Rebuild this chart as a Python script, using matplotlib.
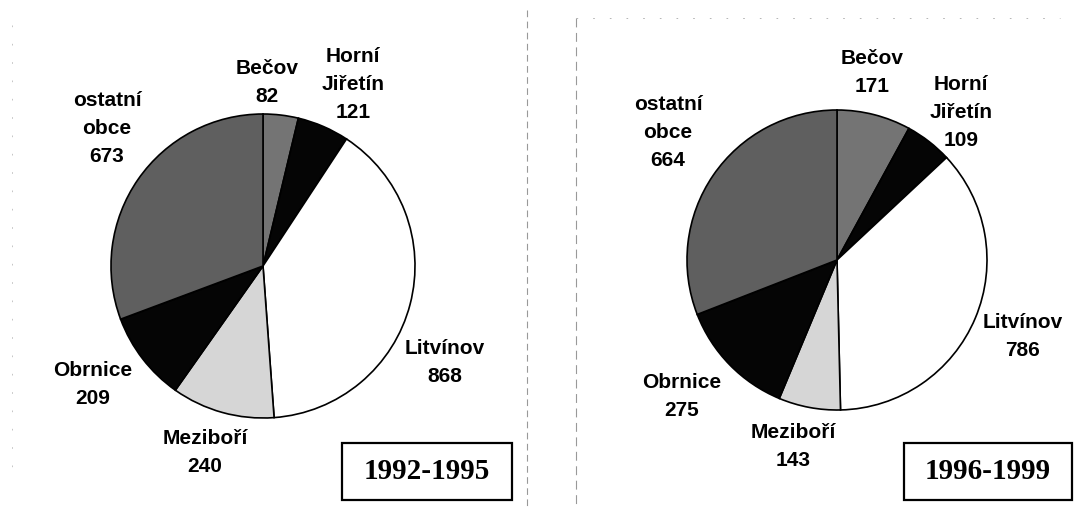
"""Two pie charts: origin of residents by municipality, 1992-1995 vs 1996-1999."""

import matplotlib

matplotlib.use("Agg")

import matplotlib.pyplot as plt
from matplotlib.patches import Rectangle

W, H = 1076, 515

# data, clockwise from 12 o'clock
names = ["Bečov", "Horní\nJiřetín", "Litvínov", "Meziboří", "Obrnice", "ostatní\nobce"]
values_1992 = [82, 121, 868, 240, 209, 673]
values_1996 = [171, 109, 786, 143, 275, 664]
periods = ["1992-1995", "1996-1999"]

colors = ["#747474", "#050505", "#ffffff", "#d6d6d6", "#050505", "#5f5f5f"]

# layout in pixels (x, y from top)
pie_centers = [(263, 266), (837, 260)]
pie_radius = [152, 150]
label_pos = [
    [(267, 83), (353, 85), (445, 362), (205, 452), (93, 384), (107, 128)],
    [(872, 73), (961, 113), (1023, 336), (793, 447), (682, 397), (668, 133)],
]
boxes = [(342, 443, 170, 57), (904, 443, 168, 57)]


def py(y):
    return H - y


fig = plt.figure(figsize=(W / 100, H / 100), dpi=100)
ax = fig.add_axes([0, 0, 1, 1])

for i, vals in enumerate([values_1992, values_1996]):
    cx, cy = pie_centers[i]
    ax.pie(
        vals,
        colors=colors,
        center=(cx, py(cy)),
        radius=pie_radius[i],
        startangle=90,
        counterclock=False,
        wedgeprops=dict(edgecolor="black", linewidth=1.2),
    )
    for name, v, (lx, ly) in zip(names, vals, label_pos[i]):
        ax.text(lx, py(ly), f"{name}\n{v}", ha="center", va="center",
                fontsize=15, fontweight="bold", family="Liberation Sans",
                linespacing=1.6)
    bx, by, bw, bh = boxes[i]
    ax.add_patch(Rectangle((bx, py(by + bh)), bw, bh, facecolor="white",
                           edgecolor="black", linewidth=1.6))
    ax.text(bx + bw / 2, py(by + bh / 2), periods[i], ha="center", va="center",
            fontsize=21, fontweight="bold", family="Liberation Serif")

# faint scan frame lines
ax.plot([527, 527], [py(10), py(510)], color="#999999", lw=0.8, ls=(0, (6, 4)))
ax.plot([576, 576], [py(18), py(505)], color="#999999", lw=0.8, ls=(0, (8, 5)))
ax.plot([576, 1060], [py(18), py(18)], color="#aaaaaa", lw=0.6, ls=(0, (2, 18)))
ax.plot([12, 12], [py(25), py(470)], color="#bbbbbb", lw=0.6, ls=(0, (2, 20)))

ax.set_xlim(0, W)
ax.set_ylim(0, H)
ax.set_aspect("auto")
ax.axis("off")

fig.savefig("out.png", dpi=100)
